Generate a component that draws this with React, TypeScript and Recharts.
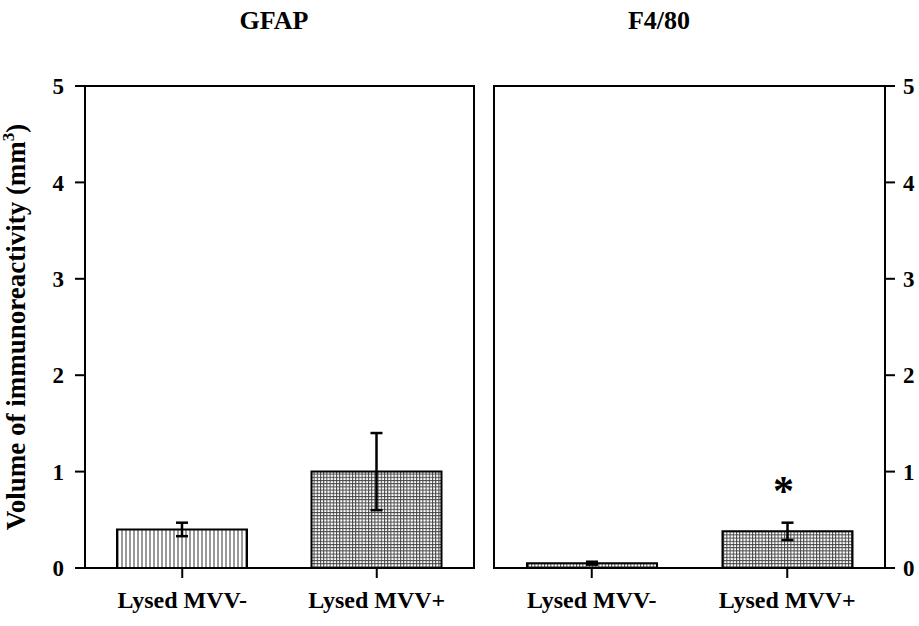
import React from "react";
import {
  BarChart,
  Bar,
  XAxis,
  YAxis,
  ErrorBar,
  Cell,
  LabelList,
  ReferenceArea,
} from "recharts";

const categories = ["Lysed MVV-", "Lysed MVV+"];
const gfapValues = [0.4, 1.0];
const gfapErrors = [0.07, 0.4];
const f480Values = [0.05, 0.38];
const f480Errors = [0.015, 0.09];
const f480Marks = ["", "*"];
const yTicks = [0, 1, 2, 3, 4, 5];

const FONT = '"Liberation Serif", "DejaVu Serif", serif';

const gfapData = categories.map((name, i) => ({ name, value: gfapValues[i], err: gfapErrors[i] }));
const f480Data = categories.map((name, i) => ({ name, value: f480Values[i], err: f480Errors[i], sig: f480Marks[i] }));

const tickStyle = { fill: "#000", fontSize: 23, fontWeight: 700, fontFamily: FONT };
const xTickStyle = { fill: "#000", fontSize: 24, fontWeight: 700, fontFamily: FONT };
const axisLine = { stroke: "#000", strokeWidth: 2 };

function Patterns() {
  return (
    <defs>
      <pattern id="vlines" width="4" height="4" patternUnits="userSpaceOnUse">
        <rect width="4" height="4" fill="#fff" />
        <line x1="2" y1="0" x2="2" y2="4" stroke="#333" strokeWidth="1" />
      </pattern>
      <pattern id="grid" width="3.2" height="3.2" patternUnits="userSpaceOnUse">
        <rect width="3.2" height="3.2" fill="#fff" />
        <line x1="0" y1="0.5" x2="3.2" y2="0.5" stroke="#444" strokeWidth="1" />
        <line x1="0.5" y1="0" x2="0.5" y2="3.2" stroke="#444" strokeWidth="1" />
      </pattern>
    </defs>
  );
}

function YLabel(props: any) {
  const vb = props.viewBox || {};
  const cx = 25;
  const cy = vb.y + vb.height / 2;
  return (
    <text
      transform={`translate(${cx},${cy}) rotate(-90)`}
      textAnchor="middle"
      fontFamily={FONT}
      fontWeight={700}
      fontSize={27}
      fill="#000"
    >
      Volume of immunoreactivity (mm
      <tspan dy={-11} fontSize={17}>3</tspan>
      <tspan dy={11}>)</tspan>
    </text>
  );
}

function Star(props: any) {
  const { x, y, width, value } = props;
  if (!value) return null;
  return (
    <text x={x + width / 2 - 4} y={y - 26} textAnchor="middle" fontFamily={FONT} fontWeight={700} fontSize={42} fill="#000">
      {value}
    </text>
  );
}

export default function App() {
  return (
    <div style={{ position: "absolute", left: 0, top: 0, width: 919, height: 626, background: "#fff", fontFamily: FONT }}>
      <div style={{ position: "absolute", left: 214, top: 6, width: 120, textAlign: "center", fontSize: 26, fontWeight: 700 }}>
        GFAP
      </div>
      <div style={{ position: "absolute", left: 599, top: 6, width: 120, textAlign: "center", fontSize: 26, fontWeight: 700 }}>
        F4/80
      </div>

      <div style={{ position: "absolute", left: 0, top: 0 }}>
        <BarChart width={480} height={626} data={gfapData} margin={{ top: 86, right: 6, bottom: 0, left: 0 }}>
          <Patterns />
          <XAxis
            dataKey="name"
            height={58}
            tick={xTickStyle}
            tickSize={10}
            tickMargin={13}
            axisLine={axisLine}
            tickLine={axisLine}
          />
          <YAxis
            domain={[0, 5]}
            ticks={yTicks}
            width={85}
            tick={tickStyle}
            tickSize={10}
            tickMargin={11}
            axisLine={axisLine}
            tickLine={axisLine}
            label={{ content: <YLabel /> }}
          />
          <ReferenceArea y1={0} y2={5} fill="none" stroke="#000" strokeWidth={2} ifOverflow="visible" />
          <Bar dataKey="value" barSize={130} stroke="#000" strokeWidth={2} isAnimationActive={false}>
            <Cell fill="url(#vlines)" />
            <Cell fill="url(#grid)" />
            <ErrorBar dataKey="err" width={6} stroke="#000" strokeWidth={2.5} />
          </Bar>
        </BarChart>
      </div>

      <div style={{ position: "absolute", left: 480, top: 0 }}>
        <BarChart width={439} height={626} data={f480Data} margin={{ top: 86, right: 0, bottom: 0, left: 14 }}>
          <Patterns />
          <XAxis
            dataKey="name"
            height={58}
            tick={xTickStyle}
            tickSize={10}
            tickMargin={13}
            axisLine={axisLine}
            tickLine={axisLine}
          />
          <YAxis
            orientation="right"
            domain={[0, 5]}
            ticks={yTicks}
            width={34}
            tick={{ ...tickStyle, textAnchor: "start" }}
            tickSize={10}
            tickMargin={8}
            axisLine={axisLine}
            tickLine={axisLine}
          />
          <ReferenceArea y1={0} y2={5} fill="none" stroke="#000" strokeWidth={2} ifOverflow="visible" />
          <Bar dataKey="value" barSize={130} stroke="#000" strokeWidth={2} isAnimationActive={false}>
            <Cell fill="url(#grid)" />
            <Cell fill="url(#grid)" />
            <ErrorBar dataKey="err" width={6} stroke="#000" strokeWidth={2.5} />
            <LabelList dataKey="sig" content={<Star />} />
          </Bar>
        </BarChart>
      </div>
    </div>
  );
}
